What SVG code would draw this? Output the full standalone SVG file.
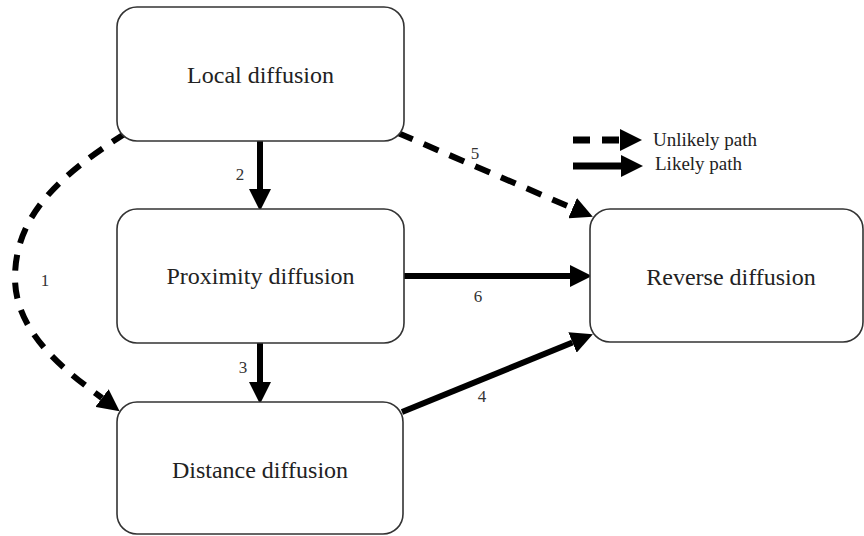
<svg xmlns="http://www.w3.org/2000/svg" width="864" height="536" viewBox="0 0 864 536">
<style>
.box{fill:#fff;stroke:#333;stroke-width:1.6}
.lbl{font-family:"Liberation Serif","Times New Roman",serif;font-size:24px;fill:#222;text-anchor:middle}
.num{font-family:"Liberation Serif","Times New Roman",serif;font-size:17px;fill:#333;text-anchor:middle}
.leg{font-family:"Liberation Serif","Times New Roman",serif;font-size:19px;fill:#222}
.solid{fill:none;stroke:#000;stroke-width:6;marker-end:url(#head)}
.dash{fill:none;stroke:#000;stroke-width:6;stroke-dasharray:16 12;marker-end:url(#head)}
</style>
<defs>
<marker id="head" markerUnits="userSpaceOnUse" markerWidth="22" markerHeight="22" refX="0" refY="10" orient="auto" viewBox="0 0 20 20">
<path d="M0,0 L20,10 L0,20 Z" fill="#000"/>
</marker>
</defs>
<rect width="864" height="536" fill="#fff"/>
<g id="connectors">
<path class="dash" d="M126,133 C60,175 15,215 15,278 C15,335 70,374 102,398"/>
<path class="solid" d="M260,141 L260,189"/>
<path class="solid" d="M260,343 L260,382"/>
<path class="solid" d="M402,412 L572.5,342.5"/>
<path class="dash" d="M398,133 L572.6,208.1"/>
<path class="solid" d="M404,276 L570,276"/>
</g>
<g id="labels">
<text class="num" x="45" y="286">1</text>
<text class="num" x="240" y="180">2</text>
<text class="num" x="243" y="373">3</text>
<text class="num" x="482" y="402">4</text>
<text class="num" x="475" y="159">5</text>
<text class="num" x="478" y="302">6</text>
</g>
<g id="legend">
<path d="M573,140 L620,140" fill="none" stroke="#000" stroke-width="7" stroke-dasharray="17 12" marker-end="url(#head)"/>
<path d="M573,166 L621,166" fill="none" stroke="#000" stroke-width="7" marker-end="url(#head)"/>
<text class="leg" x="653" y="146">Unlikely path</text>
<text class="leg" x="655" y="170">Likely path</text>
</g>
<g id="local">
<rect class="box" x="117" y="7" width="287" height="134" rx="20"/>
<text class="lbl" x="260.5" y="83">Local diffusion</text>
</g>
<g id="proximity">
<rect class="box" x="117" y="209" width="287" height="134" rx="20"/>
<text class="lbl" x="260.5" y="284">Proximity diffusion</text>
</g>
<g id="distance">
<rect class="box" x="117" y="402" width="286" height="132" rx="20"/>
<text class="lbl" x="260" y="478">Distance diffusion</text>
</g>
<g id="reverse">
<rect class="box" x="590" y="209" width="273" height="133" rx="20"/>
<text class="lbl" x="731" y="285">Reverse diffusion</text>
</g>
</svg>
